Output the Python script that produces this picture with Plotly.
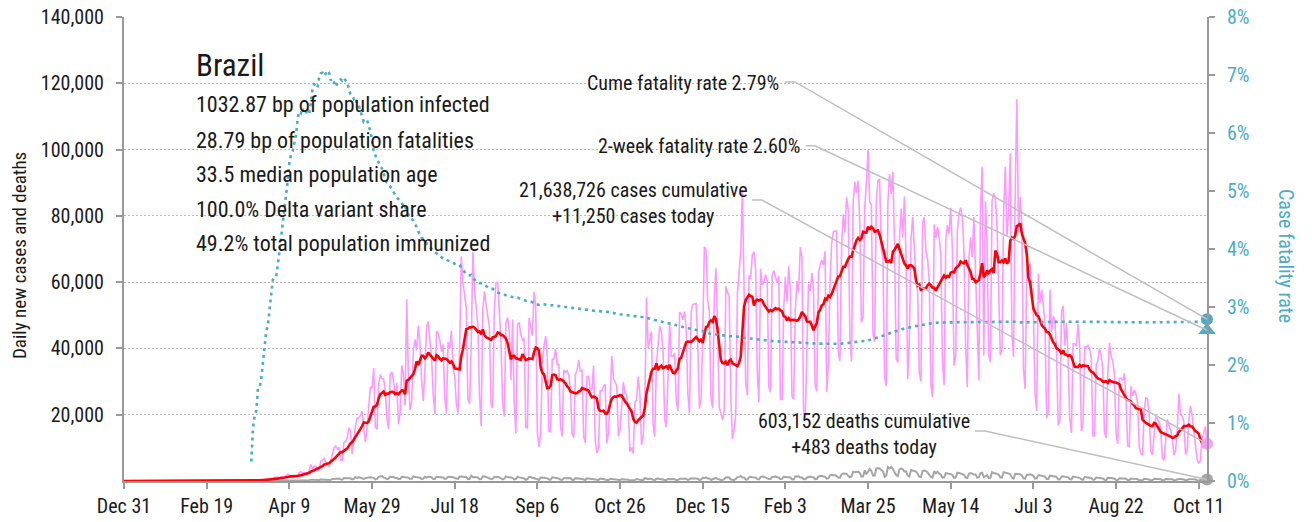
import pandas as pd
import plotly.graph_objects as go

START_DATE = "2019-12-31"

# Daily new cases in thousands: Dec 31 2019 - Feb 29 2020, then Sunday..Saturday weeks from Mar 1 2020
cases_pre_k = [0.0] * 57 + [0.001, 0.0, 0.0, 0.001]
cases_weeks_k = [
    [0.0, 0.0, 0.0, 0.001, 0.004, 0.005, 0.006],
    [0.006, 0.0, 0.009, 0.018, 0.025, 0.021, 0.03],
    [0.079, 0.034, 0.057, 0.137, 0.193, 0.283, 0.224],
    [0.418, 0.378, 0.323, 0.307, 0.431, 0.432, 0.487],
    [0.352, 0.323, 1.138, 1.119, 1.208, 1.012, 1.304],
    [0.70, 0.90, 1.50, 2.00, 1.70, 1.60, 1.00],
    [1.2, 1.3, 1.7, 2.5, 2.8, 2.4, 2.6],
    [1.8, 2.0, 3.3, 5.0, 3.6, 4.5, 4.4],
    [3.2, 3.3, 6.0, 6.3, 6.8, 5.7, 5.2],
    [4.4, 6.2, 8.2, 9.9, 10.5, 9.7, 10.1],
    [6.3, 6.2, 11.6, 11.9, 13.0, 16.0, 15.0],
    [8.1, 12.5, 16.6, 19.0, 19.0, 19.8, 21.0],
    [15.8, 11.7, 16.3, 22.6, 28.4, 27.9, 34.1],
    [16.4, 15.6, 28.9, 32.1, 30.9, 30.8, 27.3],
    [18.9, 15.7, 32.1, 32.9, 30.4, 25.9, 29.6],
    [17.1, 20.6, 34.9, 32.2, 22.8, 54.8, 31.1],
    [21.4, 24.1, 39.4, 42.7, 39.5, 46.9, 41.5],
    [30.5, 24.1, 33.8, 46.7, 48.1, 42.2, 37.1],
    [26.1, 20.2, 45.3, 44.6, 42.6, 39.0, 41.2],
    [24.8, 20.3, 41.9, 39.9, 45.4, 34.1, 31.6],
    [23.5, 20.3, 41.0, 67.8, 59.9, 55.9, 52.2],
    [24.6, 23.3, 40.8, 69.1, 57.8, 52.4, 47.0],
    [25.8, 16.6, 51.6, 57.2, 53.1, 50.2, 46.5],
    [23.0, 22.0, 52.2, 59.7, 60.1, 49.3, 41.7],
    [23.1, 19.4, 47.8, 49.3, 45.3, 30.4, 48.7],
    [23.4, 14.3, 47.2, 47.8, 44.2, 42.6, 43.0],
    [16.2, 16.0, 49.2, 46.9, 43.8, 57.1, 52.8],
    [14.5, 10.3, 14.3, 35.8, 40.6, 43.7, 36.8],
    [15.1, 14.8, 36.7, 36.8, 39.8, 35.1, 35.2],
    [16.4, 13.4, 33.5, 32.8, 33.3, 31.9, 27.7],
    [14.3, 13.1, 32.1, 33.4, 36.5, 33.0, 33.6],
    [13.4, 11.5, 31.5, 31.6, 27.8, 27.4, 34.8],
    [12.3, 8.4, 10.2, 27.2, 27.2, 28.5, 29.2],
    [11.4, 14.5, 24.8, 37.8, 30.9, 30.0, 28.6],
    [13.5, 15.7, 24.0, 29.8, 26.5, 26.0, 21.5],
    [8.8, 10.1, 8.3, 23.9, 24.4, 31.5, 26.0],
    [10.9, 13.4, 23.9, 55.4, 40.0, 42.3, 45.1],
    [17.1, 13.4, 35.3, 40.9, 46.7, 45.1, 39.5],
    [18.6, 16.2, 31.1, 47.9, 37.6, 37.6, 38.5],
    [24.4, 21.1, 50.9, 50.4, 48.6, 51.1, 46.1],
    [26.4, 20.3, 51.1, 53.3, 53.4, 53.6, 41.5],
    [21.8, 25.0, 42.9, 70.6, 69.8, 54.6, 51.3],
    [25.0, 21.9, 55.0, 64.2, 46.7, 22.3, 20.4],
    [18.5, 21.2, 58.7, 56.8, 56.0, 24.6, 12.7],
    [15.8, 20.0, 56.6, 64.0, 69.2, 87.8, 54.6],
    [29.8, 25.8, 62.0, 61.0, 68.1, 69.2, 64.1],
    [33.0, 23.7, 64.0, 59.1, 59.9, 62.3, 60.6],
    [28.3, 26.8, 61.9, 63.5, 61.8, 59.8, 61.9],
    [24.6, 24.6, 52.2, 61.6, 54.1, 64.8, 57.6],
    [25.5, 24.6, 51.5, 60.3, 56.9, 70.6, 67.6],
    [21.5, 19.2, 40.6, 59.6, 57.3, 62.7, 57.6],
    [29.0, 27.0, 62.7, 65.2, 66.6, 65.2, 69.3],
    [26.8, 35.7, 59.9, 71.7, 75.1, 75.4, 75.4],
    [38.9, 36.2, 70.8, 80.5, 75.1, 85.7, 81.8],
    [43.8, 36.0, 83.9, 90.3, 86.9, 90.6, 77.5],
    [47.8, 49.3, 82.5, 89.9, 99.9, 84.2, 83.4],
    [44.3, 42.1, 84.5, 90.6, 91.1, 69.8, 67.6],
    [31.4, 28.6, 84.0, 92.6, 86.6, 93.3, 71.5],
    [37.0, 35.8, 73.2, 82.2, 73.5, 85.8, 67.5],
    [30.6, 42.9, 73.2, 79.7, 69.1, 60.4, 57.1],
    [32.6, 30.1, 77.7, 79.7, 69.4, 67.0, 60.5],
    [28.9, 25.2, 77.4, 73.4, 76.7, 73.4, 68.5],
    [35.8, 28.9, 72.7, 77.2, 74.6, 82.4, 70.1],
    [34.8, 37.5, 75.4, 80.7, 82.5, 79.7, 69.4],
    [40.9, 28.3, 67.3, 73.5, 67.5, 79.7, 62.8],
    [43.1, 30.4, 81.8, 94.8, 37.9, 84.5, 72.0],
    [37.9, 35.8, 84.6, 86.8, 85.1, 76.9, 54.9],
    [37.9, 39.8, 80.9, 94.8, 74.0, 81.2, 98.9],
    [44.2, 37.5, 87.8, 115.2, 75.1, 85.7, 77.5],
    [33.7, 27.8, 64.1, 64.9, 65.2, 57.7, 50.6],
    [26.3, 21.1, 62.5, 53.7, 57.7, 53.0, 47.7],
    [18.9, 20.9, 57.7, 45.0, 49.7, 48.5, 39.3],
    [16.8, 18.1, 51.0, 52.8, 40.9, 47.7, 36.7],
    [18.6, 14.5, 41.4, 41.4, 40.7, 47.4, 41.0],
    [15.1, 17.0, 40.7, 40.2, 40.9, 40.0, 37.1],
    [13.6, 13.6, 35.2, 36.2, 40.0, 38.0, 33.4],
    [14.5, 13.0, 32.4, 41.7, 37.6, 36.3, 32.5],
    [14.4, 11.2, 30.9, 31.0, 30.2, 32.5, 24.8],
    [10.6, 10.4, 28.6, 25.6, 27.4, 26.3, 23.7],
    [10.4, 8.3, 7.8, 21.0, 25.0, 24.8, 20.3],
    [9.0, 7.9, 14.8, 19.4, 18.7, 17.9, 15.9],
    [6.9, 6.3, 14.0, 18.6, 16.8, 15.4, 13.0],
    [7.8, 9.2, 15.4, 26.3, 20.0, 19.6, 17.7],
    [8.0, 9.4, 18.0, 22.6, 19.7, 15.2, 12.1],
    [6.5, 5.3, 6.1, 12.9, 14.3, 16.5, 11.25],
]

# Daily new deaths, same calendar layout
deaths_pre = [0] * 61
deaths_weeks = [
    [0, 0, 0, 0, 0, 0, 0],
    [0, 0, 0, 0, 0, 0, 0],
    [0, 0, 1, 3, 3, 4, 7],
    [7, 9, 12, 11, 20, 15, 22],
    [22, 23, 42, 40, 58, 60, 73],
    [54, 67, 114, 133, 141, 115, 68],
    [99, 105, 168, 190, 170, 180, 135],
    [113, 166, 165, 407, 357, 346, 291],
    [189, 338, 474, 449, 435, 428, 421],
    [275, 296, 600, 615, 610, 751, 730],
    [496, 396, 881, 749, 844, 824, 816],
    [485, 674, 1179, 888, 1188, 1001, 965],
    [653, 807, 1039, 1086, 1156, 1124, 956],
    [480, 623, 1262, 1349, 1473, 1005, 904],
    [525, 679, 1272, 1274, 1239, 909, 892],
    [612, 627, 1282, 1269, 1238, 1206, 1022],
    [641, 654, 1374, 1185, 1141, 1055, 1044],
    [552, 692, 1280, 1038, 1252, 1290, 1091],
    [602, 620, 1254, 1223, 1220, 1214, 1071],
    [631, 733, 1300, 1261, 1322, 1163, 921],
    [716, 632, 1367, 1284, 1311, 1156, 1211],
    [555, 614, 1595, 1129, 1212, 1088, 1088],
    [541, 561, 1394, 1437, 1226, 1079, 905],
    [572, 703, 1274, 1175, 1262, 1060, 709],
    [494, 684, 1352, 1212, 1204, 1054, 892],
    [494, 553, 1271, 1085, 984, 855, 758],
    [366, 553, 1215, 1184, 895, 907, 682],
    [447, 310, 1075, 1136, 983, 874, 814],
    [415, 381, 1113, 987, 858, 829, 739],
    [377, 377, 836, 869, 831, 729, 869],
    [363, 335, 863, 729, 728, 692, 606],
    [366, 301, 819, 734, 706, 543, 580],
    [278, 201, 309, 754, 713, 574, 461],
    [271, 230, 661, 571, 497, 480, 432],
    [226, 292, 519, 510, 566, 495, 358],
    [190, 231, 162, 299, 610, 451, 396],
    [350, 173, 908, 645, 535, 707, 487],
    [191, 216, 676, 754, 588, 614, 475],
    [302, 296, 630, 638, 691, 620, 541],
    [272, 317, 697, 755, 694, 672, 664],
    [313, 494, 842, 764, 834, 770, 686],
    [279, 465, 968, 936, 1092, 764, 736],
    [319, 522, 963, 963, 649, 430, 314],
    [333, 556, 1111, 1074, 1041, 461, 314],
    [293, 620, 1171, 1242, 1524, 1035, 1051],
    [469, 479, 1110, 1274, 1131, 1151, 1050],
    [551, 452, 1183, 1382, 1316, 1096, 1020],
    [592, 627, 1214, 1283, 1386, 1119, 1044],
    [595, 635, 1295, 1232, 1239, 1224, 1056],
    [531, 452, 1350, 1330, 1452, 1044, 1046],
    [609, 521, 997, 1104, 1367, 1212, 1119],
    [527, 613, 1386, 1428, 1541, 1337, 1275],
    [721, 778, 1726, 1840, 1699, 1800, 1498],
    [1054, 987, 1972, 2286, 2233, 2216, 1555],
    [1127, 1383, 2798, 2648, 2724, 2815, 2438],
    [1290, 1383, 3251, 2009, 2777, 3650, 3001],
    [1660, 1607, 3780, 3869, 3769, 3305, 2922],
    [1240, 1623, 4195, 3808, 4249, 3693, 2616],
    [1824, 1480, 3459, 3808, 3560, 2848, 2929],
    [1657, 1347, 3321, 3157, 2914, 2865, 2202],
    [1305, 1202, 3086, 3163, 3001, 2595, 2035],
    [1202, 1024, 2966, 2311, 2811, 2202, 1955],
    [1026, 1106, 2383, 2311, 2367, 2087, 1824],
    [932, 1035, 2517, 2448, 2209, 2107, 1899],
    [1004, 860, 2173, 2388, 2245, 1882, 2012],
    [1001, 1124, 2346, 2504, 1200, 1454, 1689],
    [873, 1010, 2693, 2311, 2344, 2222, 1971],
    [1129, 1037, 2619, 2468, 2392, 2301, 2070],
    [1025, 739, 2152, 2081, 2023, 2032, 1648],
    [818, 697, 1893, 1880, 2029, 1833, 1550],
    [726, 830, 1780, 1648, 1565, 1419, 1321],
    [588, 595, 1595, 1574, 1514, 1356, 1199],
    [542, 465, 1340, 1424, 1388, 1214, 1103],
    [578, 488, 1318, 1173, 1108, 910, 960],
    [465, 341, 1209, 1076, 1056, 950, 888],
    [390, 464, 1041, 951, 941, 873, 748],
    [338, 250, 948, 986, 896, 821, 708],
    [320, 272, 844, 817, 821, 748, 678],
    [276, 289, 758, 729, 680, 632, 566],
    [245, 184, 227, 671, 644, 588, 437],
    [208, 273, 662, 597, 548, 573, 512],
    [198, 224, 623, 656, 527, 533, 514],
    [244, 300, 566, 586, 574, 550, 460],
    [244, 256, 530, 641, 563, 551, 503],
    [158, 165, 206, 469, 526, 495, 483],
]

# Headline figures
country = "Brazil"
bp_infected = 1032.87
bp_fatalities = 28.79
median_age = 33.5
delta_share = 100.0
immunized_share = 49.2
cum_cases = 21638726
cases_today = 11250
cum_deaths = 603152
deaths_today = 483
cume_cfr_pct = 2.79
two_week_cfr_pct = 2.60

tick_dates = ["2019-12-31", "2020-02-19", "2020-04-09", "2020-05-29", "2020-07-18",
              "2020-09-06", "2020-10-26", "2020-12-15", "2021-02-03", "2021-03-25",
              "2021-05-14", "2021-07-03", "2021-08-22", "2021-10-11"]
tick_labels = ["Dec 31", "Feb 19", "Apr 9", "May 29", "Jul 18", "Sep 6", "Oct 26",
               "Dec 15", "Feb 3", "Mar 25", "May 14", "Jul 3", "Aug 22", "Oct 11"]
left_ticks = [20000, 40000, 60000, 80000, 100000, 120000, 140000]

# ---- series ----
cases_k = cases_pre_k + [v for wk in cases_weeks_k for v in wk]
deaths = deaths_pre + [v for wk in deaths_weeks for v in wk]
dates = pd.date_range(START_DATE, periods=len(cases_k), freq="D")
cases = pd.Series([round(v * 1000) for v in cases_k], index=dates)
deaths_s = pd.Series(deaths, index=dates)
avg7 = cases.rolling(7, min_periods=1).mean()
cum_c = cases.cumsum()
cum_d = deaths_s.cumsum()
cfr = (cum_d / cum_c).where(cum_d > 0).dropna()
last_day = dates[-1]

FONT = "Roboto Condensed, Liberation Sans Narrow, Arial Narrow, sans-serif"
PINK = "#FF99FF"
RED = "#FF0000"
GRAY = "#A6A6A6"
TEAL = "#4BACC6"
AXIS = "#999999"
LEADER = "#BFBFBF"
TXT = "#1a1a1a"

fig = go.Figure()
fig.add_trace(go.Scatter(x=dates, y=cases, mode="lines",
                         line=dict(color=PINK, width=1.6), hoverinfo="skip"))
fig.add_trace(go.Scatter(x=dates, y=deaths_s, mode="lines",
                         line=dict(color=GRAY, width=2), hoverinfo="skip"))
fig.add_trace(go.Scatter(x=dates, y=avg7, mode="lines",
                         line=dict(color=RED, width=2.6), hoverinfo="skip"))
fig.add_trace(go.Scatter(x=cfr.index, y=cfr.values, mode="lines", yaxis="y2",
                         line=dict(color=TEAL, width=2.6, dash="3px,4px"), hoverinfo="skip"))

# end-of-series markers
fig.add_trace(go.Scatter(x=[last_day], y=[cases_today], mode="markers", cliponaxis=False,
                         marker=dict(color=PINK, size=12), hoverinfo="skip"))
fig.add_trace(go.Scatter(x=[last_day], y=[deaths_today], mode="markers", cliponaxis=False,
                         marker=dict(color=GRAY, size=12), hoverinfo="skip"))
fig.add_trace(go.Scatter(x=[last_day], y=[two_week_cfr_pct / 100], mode="markers", yaxis="y2",
                         cliponaxis=False,
                         marker=dict(color=TEAL, size=15, symbol="triangle-up"), hoverinfo="skip"))
fig.add_trace(go.Scatter(x=[last_day], y=[cume_cfr_pct / 100], mode="markers", yaxis="y2",
                         cliponaxis=False,
                         marker=dict(color=TEAL, size=12), hoverinfo="skip"))

# leader lines from labels to the end markers
def leader(x0, x1, y0, y_end, yref):
    fig.add_shape(type="path", xref="paper", yref=yref,
                  path=f"M {x0},{y0} L {x1},{y0} L 1,{y_end}",
                  line=dict(color=LEADER, width=1.5), layer="above")

leader(0.6104, 0.6196, 0.0688, cume_cfr_pct / 100, "y2")
leader(0.6297, 0.6380, 0.0578, two_week_cfr_pct / 100, "y2")
leader(0.5799, 0.5890, 84780, cases_today, "y")
leader(0.7858, 0.7950, 15085, deaths_today, "y")

ann = []
def text(x, y, s, size, xanchor="left", color=TXT, angle=0, align="left"):
    ann.append(dict(xref="paper", yref="paper", x=x, y=y, text=s, showarrow=False,
                    xanchor=xanchor, yanchor="middle", textangle=angle, align=align,
                    font=dict(family=FONT, size=size, color=color)))

text(0.0646, 0.8944, country, 31)
stat_lines = [
    f"{bp_infected:.2f} bp of population infected",
    f"{bp_fatalities:.2f} bp of population fatalities",
    f"{median_age:.1f} median population age",
    f"{delta_share:.1f}% Delta variant share",
    f"{immunized_share:.1f}% total population immunized",
]
for s, yy in zip(stat_lines, [0.8125, 0.7349, 0.6595, 0.5841, 0.5108]):
    text(0.0646, yy, s, 22)

text(0.6070, 0.8578, f"Cume fatality rate {cume_cfr_pct:.2f}%", 20, xanchor="right")
text(0.6264, 0.7220, f"2-week fatality rate {two_week_cfr_pct:.2f}%", 20, xanchor="right")
text(0.4700, 0.6002, f"{cum_cases:,} cases cumulative<br>+{cases_today:,} cases today", 20,
     xanchor="center", align="center")
text(0.6833, 0.1013, f"{cum_deaths:,} deaths cumulative<br>+{deaths_today:,} deaths today", 20,
     xanchor="center", align="center")
text(-0.096, 0.485, "Daily new cases and deaths", 19, xanchor="center", angle=-90)
text(1.0729, 0.485, "Case fatality rate", 20, xanchor="center", color=TEAL, angle=90)

fig.update_layout(
    width=1312, height=522,
    margin=dict(l=124, r=105, t=17, b=41, autoexpand=False),
    paper_bgcolor="white", plot_bgcolor="white",
    showlegend=False,
    font=dict(family=FONT, size=20, color=TXT),
    annotations=ann,
    xaxis=dict(type="date", range=[START_DATE, last_day], automargin=False,
               tickvals=tick_dates, ticktext=tick_labels,
               showgrid=False, zeroline=False,
               showline=True, linecolor=AXIS, linewidth=2,
               ticks="outside", ticklen=6, tickwidth=1.5, tickcolor=AXIS,
               tickfont=dict(family=FONT, size=20, color=TXT)),
    yaxis=dict(range=[0, 140000], tickvals=left_ticks, tickformat=",", automargin=False,
               showgrid=True, gridcolor="#BBBBBB", gridwidth=1, griddash="2px,2px",
               zeroline=False, showline=True, linecolor=AXIS, linewidth=2,
               ticks="outside", ticklen=6, tickwidth=1.5, tickcolor=AXIS,
               ticklabelstandoff=8,
               tickfont=dict(family=FONT, size=20, color=TXT)),
    yaxis2=dict(range=[0, 0.08], dtick=0.01, tickformat=".0%", overlaying="y", side="right",
                automargin=False,
                showgrid=False, zeroline=False, showline=True, linecolor=AXIS, linewidth=2,
                ticks="outside", ticklen=6, tickwidth=1.5, tickcolor=AXIS,
                ticklabelstandoff=8,
                tickfont=dict(family=FONT, size=20, color=TEAL)),
)

fig.write_html("out.html")
